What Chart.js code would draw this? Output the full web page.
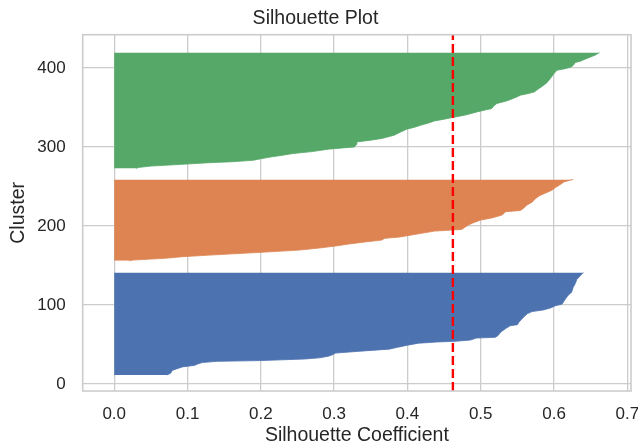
<!DOCTYPE html>
<html>
<head>
<meta charset="utf-8">
<script src="https://cdn.jsdelivr.net/npm/chart.js@4.4.1/dist/chart.umd.min.js"></script>
<style>
  html, body { margin: 0; padding: 0; background: #ffffff; }
  #wrap { width: 638px; height: 446px; }
</style>
</head>
<body>
<div id="wrap"><canvas id="c" width="638" height="446"></canvas></div>
<script>
// ---- Data ----
const clusterNames = ['Cluster 0', 'Cluster 1', 'Cluster 2'];

// Cluster 0 (blue): sample row positions and silhouette values (outline of the sorted profile)
const cluster0Rows = [11.3, 13.5, 17, 19, 21.5, 23.5, 25, 27, 28.5, 29.5, 30.5, 31.5, 33, 35, 37, 39, 41, 44, 46, 49, 51.5, 53, 54, 55.5, 58, 59, 61.5, 64, 66, 70, 73.5, 75, 78, 82, 86, 89, 91.5, 93.5, 96, 99, 101, 104, 108, 112, 116, 122, 127, 132, 137, 141];
const cluster0Values = [0.072, 0.077, 0.079, 0.085, 0.093, 0.11, 0.113, 0.12, 0.14, 0.2, 0.23, 0.26, 0.28, 0.292, 0.298, 0.302, 0.33, 0.375, 0.385, 0.4, 0.415, 0.44, 0.466, 0.486, 0.494, 0.52, 0.524, 0.526, 0.528, 0.534, 0.54, 0.55, 0.552, 0.556, 0.56, 0.564, 0.57, 0.585, 0.595, 0.602, 0.611, 0.613, 0.616, 0.619, 0.624, 0.626, 0.629, 0.631, 0.636, 0.640];

// Cluster 1 (orange)
const cluster1Rows = [155.9, 156.7, 158, 158.9, 161, 163, 164.3, 166.5, 169.4, 172, 174.5, 177, 180, 182, 184.2, 186, 189.6, 193.4, 195.5, 198, 201, 204, 207.4, 210, 213.7, 216, 217.9, 219.5, 222, 226.3, 230, 234.8, 238, 241.1, 245, 248.7, 252, 255.8, 258.8];
const cluster1Values = [0.02, 0.026, 0.05, 0.069, 0.093, 0.13, 0.156, 0.2, 0.253, 0.28, 0.302, 0.32, 0.345, 0.365, 0.369, 0.39, 0.413, 0.437, 0.474, 0.478, 0.483, 0.49, 0.5, 0.515, 0.529, 0.532, 0.534, 0.554, 0.558, 0.563, 0.57, 0.575, 0.58, 0.587, 0.597, 0.602, 0.608, 0.614, 0.626];

// Cluster 2 (green)
const cluster2Rows = [272.7, 274, 275.7, 277, 278.2, 280, 281.2, 283.1, 285, 287.4, 289.5, 291.6, 294, 297.1, 300, 303, 306.3, 308.5, 310.6, 314.8, 318.5, 322.4, 325, 327.4, 330, 332.9, 335, 337.1, 340.1, 344.3, 346.5, 348.5, 352, 354.9, 358, 361.2, 363.5, 365.4, 367.5, 369.6, 373, 376, 381, 386.5, 392.8, 397, 399, 401.3, 404, 406.8, 408.5, 410.5, 412, 413.9, 416.5, 419.4];
const cluster2Values = [0.03, 0.033, 0.05, 0.075, 0.098, 0.13, 0.161, 0.19, 0.2, 0.215, 0.23, 0.244, 0.27, 0.292, 0.328, 0.33, 0.331, 0.35, 0.365, 0.382, 0.39, 0.399, 0.41, 0.418, 0.428, 0.437, 0.45, 0.461, 0.478, 0.495, 0.505, 0.515, 0.518, 0.522, 0.535, 0.544, 0.55, 0.554, 0.565, 0.573, 0.578, 0.583, 0.59, 0.595, 0.6, 0.604, 0.615, 0.624, 0.627, 0.629, 0.636, 0.641, 0.645, 0.65, 0.657, 0.662];

// Average silhouette score (red dashed line)
const averageScore = 0.462;

// Axis ranges and tick labels
const xRange = [-0.043, 0.705];
const yRange = [-9, 442];
const xTicks = [0.0, 0.1, 0.2, 0.3, 0.4, 0.5, 0.6, 0.7];
const yTicks = [0, 100, 200, 300, 400];

const clusterColors = ['#4c72b0', '#dd8452', '#55a868'];

// ---- Build chart ----
const FONT = "'Liberation Sans', Arial, Helvetica, sans-serif";
const TEXT = '#262626';
const GRID = '#cccccc';

function toPoints(rows, values) {
  return rows.map((r, i) => ({ x: values[i], y: r }));
}

const clusterRows = [cluster0Rows, cluster1Rows, cluster2Rows];
const clusterValues = [cluster0Values, cluster1Values, cluster2Values];

const datasets = [
  {
    label: 'Average',
    data: [{ x: averageScore, y: yRange[0] }, { x: averageScore, y: yRange[1] }],
    borderColor: '#ff0000',
    borderWidth: 2.4,
    borderDash: [9, 4],
    pointRadius: 0,
    fill: false
  }
];
clusterNames.forEach((name, k) => {
  datasets.push({
    label: name,
    data: toPoints(clusterRows[k], clusterValues[k]),
    borderColor: clusterColors[k],
    backgroundColor: clusterColors[k],
    borderWidth: 0.8,
    pointRadius: 0,
    tension: 0,
    fill: 'origin'
  });
});

const framePlugin = {
  id: 'frame',
  afterDatasetsDraw(chart) {
    const { ctx, chartArea: a } = chart;
    ctx.save();
    ctx.strokeStyle = GRID;
    ctx.lineWidth = 1.6;
    ctx.strokeRect(a.left, a.top, a.right - a.left, a.bottom - a.top);
    ctx.restore();
  }
};

new Chart(document.getElementById('c'), {
  type: 'line',
  data: { datasets },
  options: {
    indexAxis: 'y',
    responsive: false,
    animation: false,
    layout: { padding: { left: 0, right: 7, top: 0, bottom: 0 } },
    plugins: {
      legend: { display: false },
      tooltip: { enabled: false },
      title: {
        display: true,
        text: 'Silhouette Plot',
        color: TEXT,
        font: { family: FONT, size: 19.5, weight: 'normal', lineHeight: 1.2 },
        padding: { top: 6.5, bottom: 4.8 }
      }
    },
    scales: {
      x: {
        type: 'linear',
        min: xRange[0],
        max: xRange[1],
        afterBuildTicks: (s) => { s.ticks = xTicks.map(v => ({ value: v })); },
        afterFit: (s) => { s.height = 55; s.paddingRight = 0; s.paddingLeft = 0; },
        grid: { color: GRID, lineWidth: 1.3, drawTicks: false },
        border: { display: false },
        ticks: {
          padding: 13,
          color: TEXT,
          font: { family: FONT, size: 17 },
          maxRotation: 0,
          autoSkip: false,
          callback: (v) => Number(v).toFixed(1)
        },
        title: {
          display: true,
          text: 'Silhouette Coefficient',
          color: TEXT,
          font: { family: FONT, size: 19.5, lineHeight: 1.1 },
          padding: { top: 0, bottom: 0 }
        }
      },
      y: {
        type: 'linear',
        min: yRange[0],
        max: yRange[1],
        afterBuildTicks: (s) => { s.ticks = yTicks.map(v => ({ value: v })); },
        afterFit: (s) => { s.width = 82.7; s.paddingTop = 0; s.paddingBottom = 0; },
        grid: { color: GRID, lineWidth: 1.3, drawTicks: false },
        border: { display: false },
        ticks: {
          padding: 17,
          color: TEXT,
          font: { family: FONT, size: 17 },
          autoSkip: false,
          callback: (v) => String(v)
        },
        title: {
          display: true,
          text: 'Cluster',
          color: TEXT,
          font: { family: FONT, size: 19.5, lineHeight: 1.2 },
          padding: { top: 6.5, bottom: 0 }
        }
      }
    }
  },
  plugins: [framePlugin]
});
</script>
</body>
</html>
